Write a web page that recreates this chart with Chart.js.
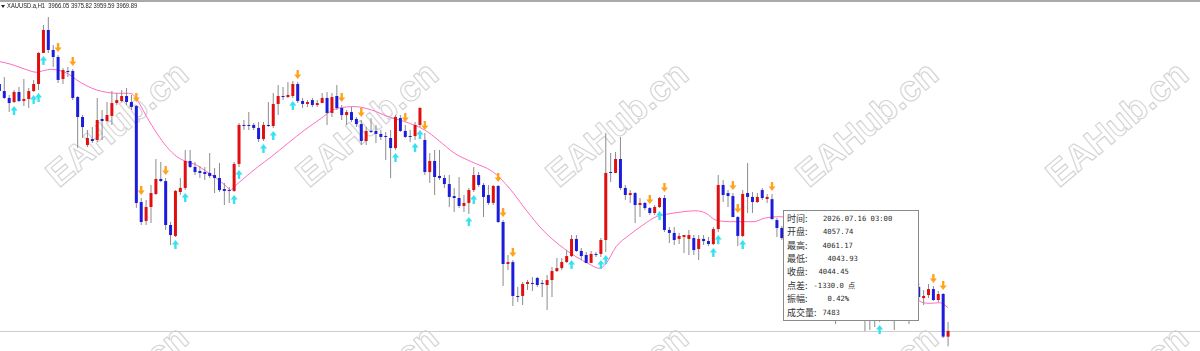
<!DOCTYPE html>
<html lang="zh-CN">
<head>
<meta charset="utf-8">
<title>XAUUSD.a,H1</title>
<script src="https://cdn.jsdelivr.net/npm/chart.js@4.4.1/dist/chart.umd.min.js"></script>
<style>
  html, body { margin: 0; padding: 0; background: #fff; }
  #stage { position: relative; width: 1200px; height: 351px; overflow: hidden; background: #fff; }
  #topline { position: absolute; left: 0; top: 0; width: 1200px; height: 2px; background: #a9a9a9; }
  .wm { position: absolute; white-space: nowrap; font: bold 36px "Liberation Sans", Arial, sans-serif;
        color: transparent; -webkit-text-stroke: 1px #d0d0d0; transform: translate(-50%, -50%) rotate(-40deg); }
  #chart { position: absolute; left: 0; top: 0; }
  #tri { position: absolute; left: 1px; top: 5px; width: 0; height: 0;
         border-left: 2.5px solid transparent; border-right: 2.5px solid transparent; border-top: 3px solid #222; }
  #symbol { position: absolute; left: 7px; top: 2px; line-height: 8px; font: 7px "Liberation Sans", Arial, sans-serif;
            color: #1a1a1a; white-space: pre; transform: scaleX(0.83); transform-origin: 0 0; }
  #tip { position: absolute; left: 783px; top: 210px; width: 136px; height: 111px; box-sizing: border-box;
         border: 1px solid #8a8a8a; background: #fff; color: #333; }
  #tip .row { position: absolute; left: 0; width: 134px; height: 13px; line-height: 13px; }
  #tip .lab { position: absolute; left: 3px; top: 0; font-size: 9px; font-family: "Noto Sans CJK SC", sans-serif; }
  #tip .val { position: absolute; top: 0; font-size: 7.2px; font-family: "DejaVu Sans Mono", monospace; color: #2a2a2a; }
</style>
</head>
<body>
<div id="stage">
  <div id="marks"></div>
  <canvas id="chart" width="1200" height="351"></canvas>
  <div id="topline"></div>
  <div id="tri"></div>
  <div id="symbol"></div>
  <div id="tip"></div>
</div>
<script>
// XAUUSD.a H1 candles, oldest first (index = bar number on screen)
const opens = [
  4134.5, 4129.8, 4125.2, 4122.5, 4129.2, 4123.2, 4124.5, 4129.8, 4134.5, 4155.2,
  4170.5, 4157.2, 4152.5, 4137.8, 4143.2, 4143.2, 4125.8, 4112.5, 4093.8, 4097.8,
  4097.2, 4111.2, 4109.8, 4113.2, 4121.8, 4123.2, 4126.5, 4122.5, 4119.8, 4055.8,
  4043.2, 4052.5, 4061.2, 4071.2, 4069.8, 4040.5, 4033.2, 4062.5, 4065.2, 4083.2,
  4079.2, 4076.5, 4075.8, 4075.2, 4073.8, 4071.8, 4064.5, 4063.8, 4063.2, 4081.2,
  4107.2, 4107.2, 4107.2, 4105.2, 4097.8, 4107.2, 4106.5, 4121.2, 4126.5, 4125.8,
  4126.5, 4134.5, 4123.2, 4121.2, 4123.8, 4120.5, 4121.8, 4125.2, 4115.2, 4126.5,
  4118.5, 4113.8, 4115.8, 4111.2, 4107.8, 4096.5, 4103.2, 4103.2, 4101.2, 4099.8,
  4098.5, 4091.8, 4111.8, 4103.2, 4099.8, 4099.8, 4107.2, 4097.2, 4075.8, 4083.2,
  4073.2, 4071.8, 4067.8, 4059.8, 4058.5, 4053.2, 4055.2, 4063.8, 4073.8, 4067.2,
  4060.5, 4055.2, 4066.5, 4042.5, 4014.5, 4015.8, 3993.2, 3993.2, 4001.2, 4001.8,
  4005.2, 4001.8, 4000.5, 4003.8, 4009.8, 4011.8, 4015.8, 4019.8, 4031.2, 4023.2,
  4020.5, 4015.2, 4021.2, 4021.2, 4030.5, 4075.8, 4075.2, 4084.5, 4065.2, 4060.5,
  4061.8, 4053.8, 4055.2, 4051.8, 4048.5, 4052.5, 4058.5, 4037.2, 4035.2, 4031.2,
  4032.5, 4031.2, 4031.8, 4024.5, 4031.2, 4029.8, 4027.8, 4037.8, 4067.2, 4061.8,
  4059.8, 4045.8, 4033.2, 4061.8, 4059.2, 4055.8, 4063.8, 4057.8, 4057.74, 4043.8,
  4038.5, 4031.8, 4023.8, 4027.8, 4015.8, 4010.5, 4018.5, 4007.2, 4000.5, 4005.2,
  3995.8, 3990.5, 3983.8, 3989.2, 3985.2, 3982.5, 3987.2, 3981.2, 3978.5, 3977.2,
  3982.5, 3979.2, 3986.5, 3981.8, 3979.8, 3987.2, 3991.8, 3987.2, 3999.2, 3991.8,
  3993.8, 3997.8, 3990.5, 3994.5, 3966.05
];
const highs = [
  4135.8, 4139.2, 4127.2, 4130.5, 4132.5, 4137.8, 4131.8, 4137.2, 4155.8, 4173.8,
  4179.2, 4160.5, 4153.8, 4145.2, 4145.8, 4144.5, 4126.5, 4113.8, 4103.8, 4105.8,
  4125.2, 4117.2, 4122.5, 4129.8, 4128.5, 4130.5, 4131.8, 4127.2, 4120.5, 4058.5,
  4057.2, 4067.2, 4084.5, 4082.5, 4071.8, 4042.5, 4063.8, 4071.8, 4090.5, 4090.5,
  4082.5, 4079.8, 4079.2, 4088.5, 4078.5, 4081.8, 4068.5, 4065.8, 4082.5, 4108.5,
  4110.5, 4115.8, 4108.5, 4109.2, 4109.2, 4122.5, 4128.5, 4133.8, 4132.5, 4135.8,
  4136.5, 4135.8, 4125.2, 4123.8, 4125.2, 4123.8, 4128.5, 4129.2, 4128.5, 4133.8,
  4120.5, 4117.2, 4119.2, 4112.5, 4110.5, 4105.8, 4111.8, 4107.2, 4103.8, 4102.5,
  4103.8, 4113.8, 4113.8, 4107.2, 4103.8, 4109.2, 4119.2, 4101.8, 4088.5, 4090.5,
  4090.5, 4073.8, 4073.8, 4065.2, 4072.5, 4060.5, 4065.2, 4079.2, 4075.8, 4068.5,
  4067.2, 4067.2, 4067.2, 4043.8, 4020.5, 4017.2, 3999.2, 4002.5, 4003.8, 4005.8,
  4005.8, 4003.8, 4007.2, 4012.5, 4018.5, 4018.5, 4023.8, 4033.8, 4033.8, 4025.2,
  4022.5, 4023.2, 4022.5, 4031.8, 4101.8, 4088.5, 4089.2, 4099.2, 4067.2, 4063.8,
  4062.5, 4058.5, 4055.8, 4052.5, 4053.8, 4059.2, 4060.5, 4039.2, 4039.2, 4035.2,
  4033.8, 4037.2, 4033.8, 4033.8, 4033.8, 4032.5, 4039.2, 4073.8, 4070.5, 4063.8,
  4061.8, 4046.5, 4063.8, 4081.8, 4062.5, 4061.8, 4065.2, 4061.2, 4061.17, 4045.2,
  4039.8, 4033.8, 4030.5, 4029.2, 4018.5, 4020.5, 4021.2, 4010.5, 4009.2, 4007.2,
  3999.8, 3993.2, 3991.8, 3992.5, 3989.2, 3990.5, 3990.5, 3985.2, 3982.5, 3985.2,
  3987.2, 3990.5, 3989.2, 3987.2, 3990.5, 3994.5, 3995.8, 3998.5, 4001.8, 3997.2,
  4001.2, 3999.8, 3996.5, 3995.2, 3975.82
];
const lows = [
  4129.2, 4124.5, 4115.8, 4121.8, 4122.5, 4119.8, 4118.5, 4129.2, 4130.5, 4155.2,
  4155.2, 4145.8, 4135.2, 4134.5, 4139.2, 4123.8, 4091.8, 4098.5, 4092.5, 4095.2,
  4095.8, 4097.2, 4109.2, 4107.2, 4120.5, 4122.5, 4120.5, 4117.2, 4051.8, 4040.5,
  4040.5, 4041.8, 4060.5, 4069.2, 4037.2, 4027.2, 4032.5, 4060.5, 4063.8, 4078.5,
  4073.8, 4071.8, 4070.5, 4071.8, 4061.8, 4062.5, 4053.8, 4055.2, 4062.5, 4079.2,
  4103.8, 4103.8, 4103.8, 4095.8, 4096.5, 4105.8, 4105.2, 4113.8, 4123.8, 4125.2,
  4125.2, 4121.8, 4118.5, 4119.2, 4119.2, 4119.2, 4121.8, 4107.2, 4112.5, 4117.2,
  4110.5, 4107.2, 4109.2, 4105.8, 4093.8, 4093.8, 4101.8, 4095.2, 4097.2, 4083.8,
  4071.8, 4090.5, 4102.5, 4098.5, 4095.8, 4097.2, 4105.8, 4073.8, 4068.5, 4060.5,
  4070.5, 4065.2, 4052.5, 4049.2, 4051.8, 4049.2, 4047.8, 4062.5, 4065.8, 4045.8,
  4053.8, 4053.8, 4041.8, 3999.8, 4010.5, 3986.5, 3989.2, 3987.2, 3997.2, 3996.5,
  3999.2, 3992.5, 3983.8, 3992.5, 4009.2, 4010.5, 4015.2, 4019.2, 4022.5, 4017.2,
  4015.2, 4015.2, 4019.2, 4019.2, 4022.5, 4069.2, 4075.2, 4063.8, 4057.2, 4055.2,
  4041.8, 4045.8, 4050.5, 4047.2, 4047.2, 4051.8, 4035.8, 4028.5, 4027.2, 4027.8,
  4021.8, 4020.5, 4020.5, 4017.2, 4027.2, 4026.5, 4027.2, 4035.8, 4055.8, 4052.5,
  4045.8, 4026.5, 4032.5, 4048.5, 4048.5, 4055.2, 4057.2, 4055.2, 4043.93, 4032.5,
  4030.5, 4020.5, 4019.8, 4013.2, 4006.5, 4007.8, 4003.8, 3997.2, 3995.8, 3991.8,
  3987.2, 3974.5, 3980.5, 3982.5, 3978.5, 3979.8, 3978.5, 3969.8, 3970.5, 3972.5,
  3975.8, 3977.8, 3978.5, 3970.5, 3977.8, 3983.8, 3974.5, 3984.5, 3990.5, 3987.2,
  3991.8, 3989.8, 3989.2, 3965.2, 3959.59
];
const closes = [
  4129.8, 4125.2, 4121.8, 4129.2, 4123.2, 4124.5, 4129.8, 4134.5, 4155.2, 4170.5,
  4157.2, 4152.5, 4137.2, 4143.8, 4142.5, 4125.2, 4112.5, 4105.8, 4098.5, 4096.5,
  4110.5, 4109.8, 4113.8, 4121.8, 4123.8, 4126.5, 4122.5, 4119.2, 4055.2, 4042.5,
  4052.5, 4061.8, 4071.2, 4069.8, 4040.5, 4033.8, 4063.2, 4065.2, 4083.2, 4079.2,
  4075.8, 4075.2, 4074.5, 4073.2, 4071.8, 4063.8, 4063.2, 4063.2, 4081.2, 4107.2,
  4106.5, 4106.5, 4105.2, 4097.8, 4107.2, 4106.5, 4121.2, 4126.5, 4125.8, 4127.2,
  4134.5, 4123.2, 4121.2, 4122.5, 4120.5, 4121.8, 4125.2, 4115.2, 4125.8, 4118.5,
  4113.8, 4115.8, 4110.5, 4107.8, 4096.5, 4103.2, 4102.5, 4101.2, 4099.2, 4099.2,
  4091.8, 4112.5, 4103.2, 4099.2, 4099.2, 4107.2, 4118.5, 4075.8, 4083.2, 4072.5,
  4071.8, 4067.8, 4059.2, 4058.5, 4053.2, 4055.2, 4063.8, 4073.8, 4067.2, 4059.2,
  4055.2, 4066.5, 4042.5, 4014.5, 4015.8, 3993.2, 3992.5, 4001.2, 4002.5, 4001.2,
  4000.5, 4001.2, 4003.8, 4009.8, 4011.8, 4015.8, 4019.8, 4031.2, 4023.2, 4019.8,
  4015.2, 4021.2, 4020.5, 4030.5, 4075.2, 4075.2, 4084.5, 4065.2, 4060.5, 4061.8,
  4053.8, 4055.2, 4051.8, 4048.5, 4052.5, 4058.5, 4037.2, 4035.2, 4030.5, 4033.2,
  4033.8, 4033.8, 4023.8, 4031.2, 4029.8, 4027.8, 4037.8, 4067.2, 4060.5, 4059.8,
  4045.8, 4033.2, 4061.2, 4059.2, 4055.8, 4059.2, 4058.5, 4059.2, 4044.45, 4038.5,
  4031.8, 4023.8, 4027.8, 4015.8, 4010.5, 4018.5, 4007.2, 4000.5, 4005.2, 3995.8,
  3990.5, 3983.8, 3989.2, 3985.2, 3982.5, 3987.2, 3981.2, 3978.5, 3976.5, 3982.5,
  3979.2, 3986.5, 3981.8, 3979.8, 3987.2, 3991.8, 3987.2, 3995.8, 3992.5, 3993.2,
  3997.8, 3990.5, 3994.5, 3966.1, 3969.89
];

// moving average line, read at these bar positions
const maIdx = [0.1, 2.2, 4.2, 6.3, 7.6, 9.0, 10.7, 12.4, 14.1, 15.8, 17.9, 19.9, 21.9, 24.0, 26.4, 27.4,
  28.8, 30.1, 32.2, 34.2, 36.3, 38.3, 40.3, 42.4, 44.4, 46.5, 47.2, 48.2, 49.2, 50.8, 52.9, 55.6,
  59.0, 62.4, 65.8, 67.9, 69.2, 72.7, 76.1, 79.5, 82.9, 87.0, 89.7, 93.1, 96.5, 100.9, 104.3, 107.7,
  111.1, 114.5, 117.9, 120.6, 122.7, 124.1, 126.1, 128.8, 131.6, 134.3, 136.3, 138.4, 142.4, 144.5,
  146.5, 150.2, 154.3, 156.4, 159.6, 165, 172, 180, 185, 187.6, 188.9, 190.3, 192.3, 194];
const maVal = [4149.4, 4147.8, 4145.6, 4143.2, 4142.3, 4143.4, 4144.3, 4143.4, 4141.2, 4137.2, 4133.2, 4130.5, 4129.0, 4128.3, 4128.3, 4127.2,
  4120.5, 4112.7, 4101.6, 4092.7, 4086.0, 4082.7, 4080.5, 4076.0, 4071.6, 4066.0, 4063.8, 4066.5, 4069.4, 4073.8, 4079.4, 4086.0,
  4095.0, 4103.8, 4111.6, 4116.7, 4118.3, 4119.4, 4117.2, 4112.7, 4109.4, 4103.8, 4097.2, 4088.3, 4082.7, 4076.0, 4065.0, 4050.5,
  4037.2, 4027.2, 4019.4, 4014.5, 4011.6, 4015.0, 4026.0, 4033.8, 4040.5, 4046.0, 4047.6, 4048.7, 4050.0, 4048.3,
  4043.8, 4042.7, 4042.7, 4045.0, 4046.0, 4040.5, 4023.8, 4003.8, 3993.8, 3991.0, 3988.7, 3988.3, 3988.7, 3985.4];

// signal arrows: sell above the high, buy below the low
const downArrows = [12, 15, 28, 29, 34, 61, 70, 74, 83, 87, 102, 103, 105, 133, 136, 150, 151, 158, 191, 193];
const upArrows = [3, 7, 8, 9, 36, 38, 48, 49, 54, 56, 60, 81, 85, 86, 96, 97, 117, 123, 124, 135, 146, 147, 152, 180, 187];

// bar under the cursor in the info box
const hoverIdx = 158;
const hoverTime = '2026.07.16 03:00';
const hoverPoints = '-1330.0 点';
const hoverRange = '0.42%';
const hoverVolume = '7483';

const UP_COLOR = '#e01010';
const DOWN_COLOR = '#1c1cdc';
const WICK_COLOR = '#8c8c8c';
const MA_COLOR = '#ff6cc2';

// header
const last = opens.length - 1;
document.getElementById('symbol').textContent =
  'XAUUSD.a,H1  ' + [opens[last], highs[last], lows[last], closes[last]].map(v => v.toFixed(2)).join(' ');

// info box
const tipRows = [
  ['时间:', hoverTime, 39],
  ['开盘:', opens[hoverIdx].toFixed(2), 39],
  ['最高:', highs[hoverIdx].toFixed(2), 38.5],
  ['最低:', lows[hoverIdx].toFixed(2), 43.5],
  ['收盘:', closes[hoverIdx].toFixed(2), 34.5],
  ['点差:', hoverPoints, 29.5],
  ['振幅:', hoverRange, 43.5],
  ['成交量:', hoverVolume, 38.5]
];
const tip = document.getElementById('tip');
tipRows.forEach((r, j) => {
  const row = document.createElement('div');
  row.className = 'row';
  row.style.top = (1 + j * 13.37) + 'px';
  row.innerHTML = '<span class="lab"></span><span class="val"></span>';
  row.children[0].textContent = r[0];
  row.children[1].textContent = r[1];
  row.children[1].style.left = r[2] + 'px';
  tip.appendChild(row);
});

// watermark
const marks = document.getElementById('marks');
[124, 388].forEach(cy => {
  [117, 367, 617, 867, 1117].forEach(cx => {
    const d = document.createElement('div');
    d.className = 'wm';
    d.textContent = 'EAHub.cn';
    d.style.left = cx + 'px';
    d.style.top = cy + 'px';
    marks.appendChild(d);
  });
});

function drawArrow(ctx, cx, y0, down) {
  // y0 is the edge nearest the candle
  ctx.beginPath();
  if (down) {
    ctx.moveTo(cx - 3.5, y0 - 4.5); ctx.lineTo(cx + 3.5, y0 - 4.5); ctx.lineTo(cx, y0);
    ctx.closePath(); ctx.fill();
    ctx.fillRect(cx - 1.2, y0 - 9, 2.4, 5);
  } else {
    ctx.moveTo(cx - 3.5, y0 + 4.5); ctx.lineTo(cx + 3.5, y0 + 4.5); ctx.lineTo(cx, y0);
    ctx.closePath(); ctx.fill();
    ctx.fillRect(cx - 1.2, y0 + 4, 2.4, 5);
  }
}

const overlay = {
  id: 'overlay',
  beforeDatasetsDraw(chart) {
    const { ctx, chartArea, scales: { y } } = chart;
    const py = Math.round(y.getPixelForValue(closes[last])) + 0.5;
    ctx.save();
    ctx.strokeStyle = '#cdcdcd';
    ctx.lineWidth = 1;
    ctx.beginPath();
    ctx.moveTo(chartArea.left, py);
    ctx.lineTo(chartArea.right, py);
    ctx.stroke();
    ctx.restore();
  },
  afterDatasetsDraw(chart) {
    const { ctx, scales: { x, y } } = chart;
    ctx.save();
    ctx.fillStyle = '#ffa21c';
    downArrows.forEach(i => drawArrow(ctx, x.getPixelForValue(i), y.getPixelForValue(highs[i]) - 3, true));
    ctx.fillStyle = '#36e2f0';
    upArrows.forEach(i => drawArrow(ctx, x.getPixelForValue(i), y.getPixelForValue(lows[i]) + 3, false));
    ctx.restore();
  }
};

const idx = opens.map((_, i) => i);

new Chart(document.getElementById('chart').getContext('2d'), {
  type: 'bar',
  data: {
    datasets: [
      {
        type: 'line',
        data: maIdx.map((k, j) => ({ x: k, y: maVal[j] })),
        borderColor: MA_COLOR,
        borderWidth: 1,
        pointRadius: 0,
        cubicInterpolationMode: 'monotone',
        order: 3
      },
      {
        data: idx.map(i => ({ x: i, y: [lows[i], highs[i]] })),
        backgroundColor: WICK_COLOR,
        barThickness: 1,
        grouped: false,
        inflateAmount: 0,
        order: 2
      },
      {
        data: idx.map(i => ({ x: i, y: [opens[i], closes[i]] })),
        backgroundColor: idx.map(i => closes[i] >= opens[i] ? UP_COLOR : DOWN_COLOR),
        barThickness: 3,
        grouped: false,
        minBarLength: 1,
        inflateAmount: 0,
        order: 1
      }
    ]
  },
  options: {
    responsive: false,
    animation: false,
    events: [],
    layout: { padding: 0 },
    plugins: { legend: { display: false }, tooltip: { enabled: false } },
    scales: {
      x: { type: 'linear', min: 0.12, max: 245.52, offset: false, display: false },
      y: { type: 'linear', min: 3956.5, max: 4190.5, display: false }
    }
  },
  plugins: [overlay]
});
</script>
</body>
</html>
